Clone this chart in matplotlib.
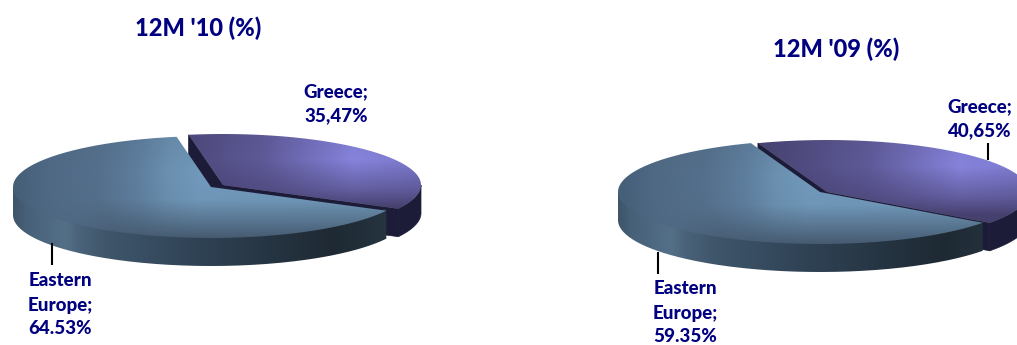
import numpy as np
import matplotlib
matplotlib.use("Agg")
import matplotlib.pyplot as plt
from matplotlib.colors import to_rgb
from matplotlib.patches import PathPatch, Polygon
from matplotlib.path import Path

# Revenue split per period
periods = ["12M '10 (%)", "12M '09 (%)"]
greece_share = [35.47, 40.65]
europe_share = [64.53, 59.35]
greece_labels = ["Greece;\n35,47%", "Greece;\n40,65%"]
europe_labels = ["Eastern\nEurope;\n64.53%", "Eastern\nEurope;\n59.35%"]

NAVY = "#000080"
DEPTH = 28

# pie geometry in pixels, start is where the Greece slice begins (degrees)
pies = [
    dict(center=(211, 187), greece_center=(223, 185), rx=198, ry=51, start=100,
         title_xy=(198.5, 28), greece_xy=(336, 104), europe_xy=(60, 305),
         europe_line=(52, 243, 265), greece_line=None),
    dict(center=(820, 192), greece_center=(827, 192), rx=202, ry=52, start=110,
         title_xy=(836, 49), greece_xy=(980, 119), europe_xy=(685, 313),
         europe_line=(658, 252, 274), greece_line=(988, 143, 160)),
]

# colour stops along the pie width
europe_side = [(.005, "#3f556a"), (.03, "#466078"), (.08, "#4d6780"), (.13, "#547088"), (.17, "#4a6279"),
               (.235, "#3f566b"), (.47, "#2f4254"), (.81, "#1e2933"), (.94, "#25343f")]
europe_top = [(.018, "#47607a"), (.09, "#4f6985"), (.22, "#55708c"), (.32, "#5f7f9f"), (.39, "#6b90b0"),
              (.47, "#7199bb"), (.95, "#7097b8")]
greece_top = [(.33, "#46426f"), (.6, "#5e5a98"), (.83, "#8683dc"), (1, "#7c79ce")]
EUROPE_LOW = "#465b71"
GREECE_LOW = "#46406e"
GREECE_SIDE = "#1c1c38"


def arc(cx, cy, rx, ry, t1, t2, n=150):
    t = np.radians(np.linspace(t1, t2, n))
    return np.column_stack([cx + rx * np.cos(t), cy - ry * np.sin(t)])


def ramp(u, stops):
    pos = [s[0] for s in stops]
    cols = np.array([to_rgb(s[1]) for s in stops])
    return np.dstack([np.interp(u, pos, cols[:, i]) for i in range(3)])


def paint(ax, verts, colour_fn):
    # gradient image clipped to the outline
    x0, y0 = np.floor(verts.min(axis=0)) - 1
    x1, y1 = np.ceil(verts.max(axis=0)) + 1
    X, Y = np.meshgrid(np.arange(x0, x1 + 1), np.arange(y0, y1 + 1))
    im = ax.imshow(colour_fn(X, Y), extent=[x0, x1, y1, y0], origin="upper",
                   aspect="auto", interpolation="bilinear", zorder=2)
    patch = PathPatch(Path(np.vstack([verts, verts[:1]])), transform=ax.transData,
                      fc="none", ec="none", zorder=2)
    ax.add_patch(patch)
    im.set_clip_path(patch)


def extrude(pts):
    return np.vstack([pts, pts[::-1] + [0, DEPTH]])


def draw_pie(ax, p, greece, europe):
    rx, ry = p["rx"], p["ry"]
    start = p["start"]
    end = start - greece / (greece + europe) * 360

    # Greece slice: inner faces first, rim, then the top
    gx, gy = p["greece_center"]
    tip = np.array([[gx, gy]])
    rim = arc(gx, gy, rx, ry, start, end)
    for edge in (rim[0], rim[-1]):
        ax.add_patch(Polygon(extrude(np.vstack([tip, [edge]])), fc=GREECE_SIDE, ec=GREECE_SIDE,
                             lw=.5, zorder=2))
    ax.add_patch(Polygon(extrude(arc(gx, gy, rx, ry, end, 0, 40)), fc=GREECE_SIDE, ec=GREECE_SIDE,
                         lw=.5, zorder=2))

    def greece_colour(X, Y):
        u = (X - (gx - rx)) / (2 * rx)
        v = (Y - gy) / ry
        k = np.interp(v, [-1, -.5, .1, .45], [.1, 0, .55, 1])[..., None]
        return ramp(u, greece_top) * (1 - k) + np.array(to_rgb(GREECE_LOW)) * k

    paint(ax, np.vstack([tip, rim]), greece_colour)

    # Eastern Europe slice
    cx, cy = p["center"]
    left = cx - rx

    def side_colour(X, Y):
        return ramp((X - left) / (2 * rx), europe_side)

    # rim runs a little under the top so no seam shows between them
    rim_edge = arc(cx, cy, rx, ry, -180, end)
    rim_inner = arc(cx, cy, rx - 2, ry - 4, -180, end)
    side = np.vstack([rim_edge[:1], rim_inner, rim_edge[-1:], rim_edge[::-1] + [0, DEPTH]])
    paint(ax, side, side_colour)

    def top_colour(X, Y):
        u = (X - left) / (2 * rx)
        v = (Y - cy) / ry
        k = np.interp(v, [-1, -.3, .25, .65, 1], [.15, 0, .05, .55, 1])[..., None]
        # the lower band fades out towards the left edge
        k = k * np.interp(u, [.12, .25], [.2, 1])[..., None]
        return ramp(u, europe_top) * (1 - k) + np.array(to_rgb(EUROPE_LOW)) * k

    paint(ax, np.vstack([[[cx, cy]], arc(cx, cy, rx, ry, end, start - 360, 300)]), top_colour)


fig = plt.figure(figsize=(10.17, 3.45), dpi=100)
ax = fig.add_axes([0, 0, 1, 1])

for i, p in enumerate(pies):
    draw_pie(ax, p, greece_share[i], europe_share[i])

    # leader lines
    for line in (p["europe_line"], p["greece_line"]):
        if line is not None:
            ax.plot([line[0], line[0]], [line[1], line[2]], color="black", lw=1.5,
                    solid_capstyle="butt", zorder=3)

    ax.text(*p["title_xy"], periods[i], color=NAVY, fontsize=17, fontweight=900,
            family="Lato", ha="center", va="center")
    ax.text(*p["greece_xy"], greece_labels[i], color=NAVY, fontsize=13.5, fontweight=900,
            family="Lato", ha="center", va="center", linespacing=1.5)
    ax.text(*p["europe_xy"], europe_labels[i], color=NAVY, fontsize=13.5, fontweight=900,
            family="Lato", ha="center", va="center", linespacing=1.5)

ax.set_xlim(0, 1017)
ax.set_ylim(345, 0)
ax.axis("off")
fig.savefig("out.png", dpi=100)
